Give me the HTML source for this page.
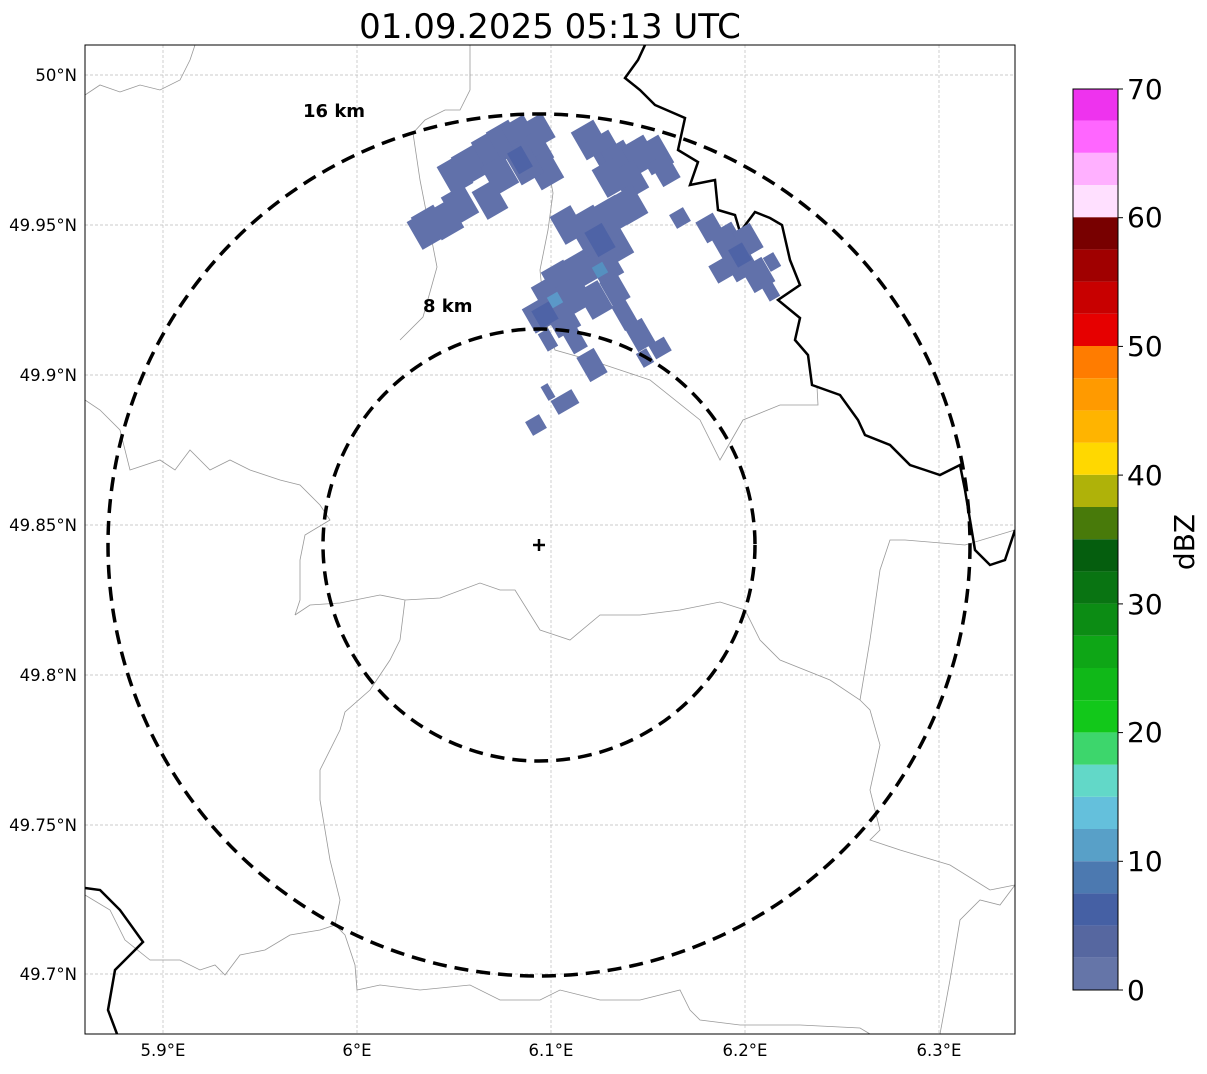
<!DOCTYPE html>
<html><head><meta charset="utf-8"><style>body{margin:0;background:#fff}</style></head><body>
<svg width="1207" height="1069" xmlns="http://www.w3.org/2000/svg" font-family="DejaVu Sans, Liberation Sans, sans-serif">
<rect width="1207" height="1069" fill="#fff"/>
<text x="550" y="38" font-size="34" text-anchor="middle">01.09.2025 05:13 UTC</text>
<defs><clipPath id="c"><rect x="85" y="45" width="930" height="989"/></clipPath></defs>
<g stroke="#bbb" stroke-width="0.7" stroke-dasharray="3,2">
<line x1="163" y1="45" x2="163" y2="1034"/><line x1="357" y1="45" x2="357" y2="1034"/><line x1="551" y1="45" x2="551" y2="1034"/><line x1="745" y1="45" x2="745" y2="1034"/><line x1="939" y1="45" x2="939" y2="1034"/>
<line x1="85" y1="75" x2="1015" y2="75"/><line x1="85" y1="225" x2="1015" y2="225"/><line x1="85" y1="375" x2="1015" y2="375"/><line x1="85" y1="525" x2="1015" y2="525"/><line x1="85" y1="675" x2="1015" y2="675"/><line x1="85" y1="825" x2="1015" y2="825"/><line x1="85" y1="974" x2="1015" y2="974"/>
</g>
<g clip-path="url(#c)">
<g fill="none" stroke="#999" stroke-width="0.8">
<polyline points="85,895 110,910 125,940 150,960 180,960 200,970 215,965 225,975 240,955 265,950 290,935 320,930 335,925 345,935 355,965 357,990 380,985 420,990 470,985 500,1000 540,1000 560,990 600,1000 640,1000 680,990 690,1010 700,1020 740,1025 800,1025 860,1028 870,1034"/>
<polyline points="295,615 310,605 340,603 380,595 405,600 440,598 480,583 500,590 515,590 540,630 570,640 600,615 640,615 680,610 720,602 745,610 760,640 780,660 830,680 860,700 870,710 880,745 870,790 880,830 870,840 900,850 950,865 990,890 1015,885"/>
<polyline points="85,400 100,410 120,430 130,470 160,460 175,470 190,450 210,470 230,460 250,470 280,480 300,485 320,505 330,520 305,535 300,560 300,600 295,615"/>
<polyline points="405,600 400,640 390,660 370,690 345,712 340,730 320,770 320,800 330,860 340,900 335,925"/>
<polyline points="85,95 100,85 120,92 140,85 160,90 180,80 190,60 195,45"/>
<polyline points="470,45 470,90 460,110 445,110 425,120 413,133 420,180 437,267 423,317 400,340"/>
<polyline points="538,113 545,150 553,193 548,230 540,270 545,320 555,350 590,360 620,370 650,380 700,420 720,460 743,420 780,405 818,405 817,387"/>
<polyline points="1015,530 965,545 905,540 890,540 880,570 870,640 860,700"/>
<polyline points="1015,885 1000,905 980,900 960,920 950,980 940,1034"/>
</g>
<g fill="none" stroke="#000" stroke-width="2.5">
<polyline points="645,45 638,60 625,78 640,90 655,105 685,118 678,150 698,162 690,185 715,180 718,210 735,215 740,232 755,212 770,218 782,225 790,260 800,285 778,300 800,318 795,340 808,355 812,385 840,395 858,420 865,435 890,445 910,465 925,470 940,475 960,465 965,490 970,520 975,550 990,565 1005,560 1015,530"/>
<polyline points="85,888 100,890 120,910 143,942 115,970 108,1010 117,1034"/>
</g>
<g fill="#6171aa">
<g transform="translate(425,230) rotate(-30)"><rect x="-12" y="-16" width="24" height="32"/></g>
<g transform="translate(445,220) rotate(-30)"><rect x="-13" y="-16" width="26" height="32"/></g>
<g transform="translate(460,205) rotate(-30)"><rect x="-13" y="-16" width="26" height="32"/></g>
<g transform="translate(455,175) rotate(-30)"><rect x="-12" y="-16" width="24" height="32"/></g>
<g transform="translate(470,165) rotate(-30)"><rect x="-13" y="-16" width="26" height="32"/></g>
<g transform="translate(490,150) rotate(-30)"><rect x="-13" y="-16" width="26" height="32"/></g>
<g transform="translate(505,140) rotate(-30)"><rect x="-13" y="-16" width="26" height="32"/></g>
<g transform="translate(520,135) rotate(-30)"><rect x="-13" y="-16" width="26" height="32"/></g>
<g transform="translate(535,150) rotate(-30)"><rect x="-13" y="-16" width="26" height="32"/></g>
<g transform="translate(545,170) rotate(-30)"><rect x="-13" y="-16" width="26" height="32"/></g>
<g transform="translate(525,165) rotate(-30)"><rect x="-13" y="-16" width="26" height="32"/></g>
<g transform="translate(500,175) rotate(-30)"><rect x="-13" y="-16" width="26" height="32"/></g>
<g transform="translate(490,200) rotate(-30)"><rect x="-12" y="-16" width="24" height="32"/></g>
<g transform="translate(430,225) rotate(-30)"><rect x="-13" y="-16" width="26" height="32"/></g>
<g transform="translate(540,130) rotate(-30)"><rect x="-10" y="-14" width="20" height="28"/></g>
<g transform="translate(590,140) rotate(-30)"><rect x="-13" y="-16" width="26" height="32"/></g>
<g transform="translate(605,150) rotate(-30)"><rect x="-13" y="-16" width="26" height="32"/></g>
<g transform="translate(620,160) rotate(-30)"><rect x="-13" y="-16" width="26" height="32"/></g>
<g transform="translate(640,155) rotate(-30)"><rect x="-13" y="-16" width="26" height="32"/></g>
<g transform="translate(655,155) rotate(-30)"><rect x="-13" y="-16" width="26" height="32"/></g>
<g transform="translate(665,170) rotate(-30)"><rect x="-10" y="-14" width="20" height="28"/></g>
<g transform="translate(630,180) rotate(-30)"><rect x="-13" y="-16" width="26" height="32"/></g>
<g transform="translate(610,178) rotate(-30)"><rect x="-12" y="-16" width="24" height="32"/></g>
<g transform="translate(630,205) rotate(-30)"><rect x="-12" y="-16" width="24" height="32"/></g>
<g transform="translate(612,215) rotate(-30)"><rect x="-13" y="-16" width="26" height="32"/></g>
<g transform="translate(590,225) rotate(-30)"><rect x="-13" y="-16" width="26" height="32"/></g>
<g transform="translate(568,225) rotate(-30)"><rect x="-12" y="-16" width="24" height="32"/></g>
<g transform="translate(595,245) rotate(-30)"><rect x="-13" y="-16" width="26" height="32"/></g>
<g transform="translate(615,245) rotate(-30)"><rect x="-13" y="-16" width="26" height="32"/></g>
<g transform="translate(605,265) rotate(-30)"><rect x="-13" y="-16" width="26" height="32"/></g>
<g transform="translate(580,270) rotate(-30)"><rect x="-13" y="-16" width="26" height="32"/></g>
<g transform="translate(560,280) rotate(-30)"><rect x="-13" y="-16" width="26" height="32"/></g>
<g transform="translate(550,295) rotate(-30)"><rect x="-13" y="-16" width="26" height="32"/></g>
<g transform="translate(575,295) rotate(-30)"><rect x="-13" y="-16" width="26" height="32"/></g>
<g transform="translate(540,315) rotate(-30)"><rect x="-13" y="-14" width="26" height="28"/></g>
<g transform="translate(562,318) rotate(-30)"><rect x="-13" y="-16" width="26" height="32"/></g>
<g transform="translate(595,300) rotate(-30)"><rect x="-12" y="-16" width="24" height="32"/></g>
<g transform="translate(615,290) rotate(-30)"><rect x="-10" y="-14" width="20" height="28"/></g>
<g transform="translate(625,315) rotate(-30)"><rect x="-8" y="-14" width="16" height="28"/></g>
<g transform="translate(640,335) rotate(-30)"><rect x="-10" y="-14" width="20" height="28"/></g>
<g transform="translate(660,348) rotate(-30)"><rect x="-9" y="-8" width="18" height="16"/></g>
<g transform="translate(645,358) rotate(-30)"><rect x="-6" y="-8" width="12" height="16"/></g>
<g transform="translate(575,340) rotate(-30)"><rect x="-8" y="-12" width="16" height="24"/></g>
<g transform="translate(548,340) rotate(-30)"><rect x="-6" y="-10" width="12" height="20"/></g>
<g transform="translate(592,365) rotate(-30)"><rect x="-10" y="-14" width="20" height="28"/></g>
<g transform="translate(565,402) rotate(-30)"><rect x="-12" y="-8" width="24" height="16"/></g>
<g transform="translate(548,392) rotate(-30)"><rect x="-4" y="-8" width="8" height="16"/></g>
<g transform="translate(536,425) rotate(-30)"><rect x="-8" y="-8" width="16" height="16"/></g>
<g transform="translate(680,218) rotate(-30)"><rect x="-8" y="-8" width="16" height="16"/></g>
<g transform="translate(710,228) rotate(-30)"><rect x="-10" y="-12" width="20" height="24"/></g>
<g transform="translate(728,242) rotate(-30)"><rect x="-13" y="-16" width="26" height="32"/></g>
<g transform="translate(748,240) rotate(-30)"><rect x="-10" y="-14" width="20" height="28"/></g>
<g transform="translate(740,262) rotate(-30)"><rect x="-13" y="-16" width="26" height="32"/></g>
<g transform="translate(758,275) rotate(-30)"><rect x="-12" y="-14" width="24" height="28"/></g>
<g transform="translate(722,270) rotate(-30)"><rect x="-10" y="-10" width="20" height="20"/></g>
<g transform="translate(770,290) rotate(-30)"><rect x="-6" y="-10" width="12" height="20"/></g>
<g transform="translate(772,262) rotate(-30)"><rect x="-6" y="-8" width="12" height="16"/></g>
</g>
<g fill="#4a60a6" opacity="0.8">
<g transform="translate(520,160) rotate(-30)"><rect x="-8" y="-12" width="16" height="24"/></g>
<g transform="translate(600,240) rotate(-30)"><rect x="-10" y="-14" width="20" height="28"/></g>
<g transform="translate(545,315) rotate(-30)"><rect x="-10" y="-10" width="20" height="20"/></g>
<g transform="translate(740,255) rotate(-30)"><rect x="-8" y="-10" width="16" height="20"/></g>
</g>
<g transform="translate(555,300) rotate(-30)"><rect x="-6" y="-6" width="12" height="12" fill="#5b98c8"/></g>
<g transform="translate(600,270) rotate(-30)"><rect x="-6" y="-6" width="12" height="12" fill="#5590c0"/></g>
<g fill="none" stroke="#000" stroke-width="3.5" stroke-dasharray="14,8">
<circle cx="539" cy="545" r="431"/>
<circle cx="539" cy="545" r="216"/>
</g>
</g>
<path d="M539,539v12M533,545h12" stroke="#000" stroke-width="2.5"/>
<text x="303" y="117" font-size="18" font-weight="bold">16 km</text>
<text x="423" y="312" font-size="18" font-weight="bold">8 km</text>
<rect x="85" y="45" width="930" height="989" fill="none" stroke="#000" stroke-width="1"/>
<g font-size="16.5" text-anchor="end">
<text x="77" y="81">50°N</text><text x="77" y="231">49.95°N</text><text x="77" y="381">49.9°N</text><text x="77" y="531">49.85°N</text><text x="77" y="681">49.8°N</text><text x="77" y="831">49.75°N</text><text x="77" y="980">49.7°N</text>
</g>
<g font-size="16.5" text-anchor="middle">
<text x="163" y="1056">5.9°E</text><text x="357" y="1056">6°E</text><text x="551" y="1056">6.1°E</text><text x="745" y="1056">6.2°E</text><text x="939" y="1056">6.3°E</text>
</g>
<g>
<rect x="1073" y="957.8" width="45" height="32.2" fill="#6575a8"/>
<rect x="1073" y="925.6" width="45" height="32.2" fill="#5667a0"/>
<rect x="1073" y="893.4" width="45" height="32.2" fill="#4560a4"/>
<rect x="1073" y="861.2" width="45" height="32.2" fill="#4c79b0"/>
<rect x="1073" y="829" width="45" height="32.2" fill="#58a0c8"/>
<rect x="1073" y="796.8" width="45" height="32.2" fill="#64c0dc"/>
<rect x="1073" y="764.6" width="45" height="32.2" fill="#62d8c8"/>
<rect x="1073" y="732.4" width="45" height="32.2" fill="#3dd66c"/>
<rect x="1073" y="700.2" width="45" height="32.2" fill="#12c81a"/>
<rect x="1073" y="668" width="45" height="32.2" fill="#10b818"/>
<rect x="1073" y="635.8" width="45" height="32.2" fill="#0ea616"/>
<rect x="1073" y="603.6" width="45" height="32.2" fill="#0c8c14"/>
<rect x="1073" y="571.4" width="45" height="32.2" fill="#097412"/>
<rect x="1073" y="539.2" width="45" height="32.2" fill="#055e0e"/>
<rect x="1073" y="507" width="45" height="32.2" fill="#487a0a"/>
<rect x="1073" y="474.8" width="45" height="32.2" fill="#afb209"/>
<rect x="1073" y="442.6" width="45" height="32.2" fill="#ffd800"/>
<rect x="1073" y="410.4" width="45" height="32.2" fill="#ffb400"/>
<rect x="1073" y="378.2" width="45" height="32.2" fill="#ff9a00"/>
<rect x="1073" y="346" width="45" height="32.2" fill="#ff7c00"/>
<rect x="1073" y="313.8" width="45" height="32.2" fill="#e60000"/>
<rect x="1073" y="281.6" width="45" height="32.2" fill="#c80000"/>
<rect x="1073" y="249.4" width="45" height="32.2" fill="#a00000"/>
<rect x="1073" y="217.2" width="45" height="32.2" fill="#780000"/>
<rect x="1073" y="185" width="45" height="32.2" fill="#ffe0ff"/>
<rect x="1073" y="152.8" width="45" height="32.2" fill="#ffb0ff"/>
<rect x="1073" y="120.6" width="45" height="32.2" fill="#ff66ff"/>
<rect x="1073" y="89" width="45" height="31.6" fill="#ee33ee"/>
<rect x="1073" y="89" width="45" height="901" fill="none" stroke="#000" stroke-width="1"/>
</g>
<g stroke="#000" stroke-width="1">
<line x1="1118" y1="990" x2="1123" y2="990"/><line x1="1118" y1="861.3" x2="1123" y2="861.3"/><line x1="1118" y1="732.6" x2="1123" y2="732.6"/><line x1="1118" y1="603.9" x2="1123" y2="603.9"/><line x1="1118" y1="475.1" x2="1123" y2="475.1"/><line x1="1118" y1="346.4" x2="1123" y2="346.4"/><line x1="1118" y1="217.7" x2="1123" y2="217.7"/><line x1="1118" y1="89" x2="1123" y2="89"/>
</g>
<g font-size="28">
<text x="1127" y="1000">0</text><text x="1127" y="871">10</text><text x="1127" y="742">20</text><text x="1127" y="614">30</text><text x="1127" y="485">40</text><text x="1127" y="356">50</text><text x="1127" y="227">60</text><text x="1127" y="99">70</text>
</g>
<text transform="translate(1194,542) rotate(-90)" font-size="28" text-anchor="middle">dBZ</text>
</svg>
</body></html>
